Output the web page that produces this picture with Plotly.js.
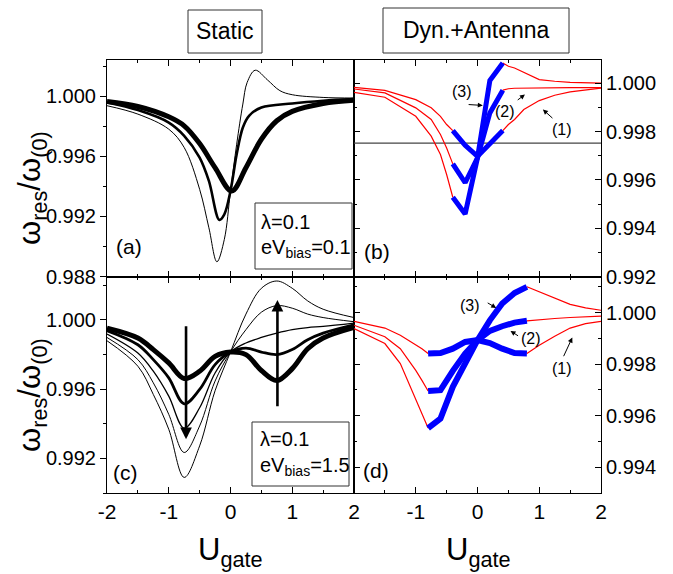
<!DOCTYPE html>
<html>
<head>
<meta charset="utf-8">
<script src="https://cdn.plot.ly/plotly-3.0.1.min.js"></script>
<style>html,body{margin:0;padding:0;background:#fff}#chart{width:673px;height:574px}</style>
</head>
<body>
<div id="chart"></div>
<script>
// ---------- DATA ----------
// Panel (a): static, eV_bias = 0.1
const aThinU = [-2,-1.5,-1,-0.75,-0.5,-0.35,-0.22,-0.1,0,0.1,0.2,0.27,0.4,0.6,0.8,1,1.5,2];
const aThinV = [0.99936,0.9988,0.9978,0.99658,0.9938,0.99124,0.98898,0.99047,0.99369,0.9968,0.99947,1.00091,1.00172,1.00107,1.00036,1.00009,0.99991,0.99987];
const aMedU = [-2,-1.5,-1,-0.75,-0.5,-0.35,-0.18,-0.1,0,0.1,0.2,0.3,0.5,1,1.5,2];
const aMedV = [0.99958,0.99907,0.99824,0.99736,0.99591,0.99436,0.99176,0.99213,0.99369,0.99613,0.99791,0.99869,0.99924,0.99951,0.99969,0.9998];
const aThickU = [-2,-1.5,-1,-0.75,-0.5,-0.25,0.02,0.25,0.5,0.75,1,1.5,2];
const aThickV = [0.99964,0.99931,0.99862,0.99802,0.99684,0.99524,0.99369,0.99524,0.99713,0.99836,0.99898,0.99951,0.99973];

// Panel (b): dynamic + antenna, eV_bias = 0.1
const bLeftU  = [-2,-1.5,-1,-0.75,-0.6,-0.5,-0.4];
const bBlueU  = [-0.4,-0.2,0,0.2,0.41];
const bRightU = [0.41,0.5,0.6,0.75,1,1.25,1.5,2];
const b1Left  = [0.99983,0.9997,0.99932,0.99898,0.99863,0.99829,0.99804];
const b2Left  = [0.99976,0.9996,0.99898,0.9985,0.99788,0.99732,0.99666];
const b3Left  = [0.99962,0.99942,0.99863,0.99781,0.99705,0.99622,0.99528];
const b1Blue  = [0.99804,0.99743,0.99697,0.99749,0.99804];
const b2Blue  = [0.99666,0.99588,0.99691,0.99877,0.99971];
const b3Blue  = [0.99528,0.99459,0.99691,1.00011,1.00084];
const b1Right = [0.99804,0.99829,0.9985,0.99891,0.99928,0.9995,0.99964,0.9998];
const b2Right = [0.99971,0.99977,0.99979,0.9998,0.99981,0.99982,0.99982,0.99982];
const b3Right = [1.00084,1.0007,1.00063,1.00044,1.00015,1.00008,1.00003,1.0];
const bRefLineU = [-2, 2];
const bRefLineV = [0.99752, 0.99752];

// Panel (c): static, eV_bias = 1.5
const cU  = [-2,-1.5,-1.25,-1,-0.75,-0.5,-0.25,0,0.25,0.5,0.75,1,1.25,1.5,2];
const c1V = [0.99952,0.99895,0.99828,0.99751,0.99661,0.99703,0.99789,0.99814,0.99799,0.99707,0.99649,0.99718,0.99833,0.99895,0.99956];
const c2V = [0.99937,0.99856,0.9977,0.99665,0.99515,0.99598,0.99741,0.99814,0.99837,0.99814,0.99799,0.99828,0.99885,0.99923,0.99971];
const c3V = [0.99918,0.99808,0.99703,0.99559,0.99374,0.99492,0.99693,0.99814,0.99866,0.99898,0.99923,0.99943,0.99955,0.99962,0.99981];
const c4V = [0.99898,0.9977,0.99636,0.99454,0.99234,0.99387,0.99646,0.99814,0.99943,1.00044,1.00082,1.00067,1.00033,1.00013,0.99989];
const c5V = [0.99879,0.99732,0.99569,0.99368,0.9909,0.99272,0.9959,0.99814,1.00033,1.00182,1.00224,1.00182,1.00109,1.00061,1.00013];

// Panel (d): dynamic + antenna, eV_bias = 1.5
const dLeftU  = [-2,-1.5,-1.25,-1,-0.9,-0.8];
const dBlueU  = [-0.8,-0.6,-0.4,-0.2,0,0.2,0.4,0.6,0.8];
const dRightU = [0.8,1,1.25,1.5,1.75,2];
const d1Left  = [0.99966,0.9994,0.99912,0.99877,0.9986,0.99841];
const d2Left  = [0.99951,0.99906,0.9986,0.99776,0.99737,0.99696];
const d3Left  = [0.99938,0.9988,0.99802,0.9966,0.99608,0.99552];
const d1Blue  = [0.99841,0.99843,0.9986,0.99886,0.99893,0.99882,0.9986,0.99843,0.99841];
const d2Blue  = [0.99696,0.99699,0.99774,0.99841,0.99893,0.99929,0.99947,0.99961,0.99968];
const d3Blue  = [0.99552,0.99589,0.99712,0.99809,0.99893,0.9997,1.00035,1.00076,1.001];
const d1Right = [0.99841,0.99873,0.99908,0.9994,0.99957,0.99966];
const d2Right = [0.99968,0.99973,0.99977,0.99981,0.99983,0.99986];
const d3Right = [1.001,1.0008,1.00054,1.00032,1.00018,1.00009];

// Tick labels
const xTickVals = [-2,-1,0,1,2];
const xTickTextC = ['-2','-1','0','1','2'];
const xTickTextD = ['','-1','0','1','2'];

// Texts
const colTitles = ['Static','Dyn.+Antenna'];
const yTitle = 'ω<sub>res</sub>/ω<sub>(0)</sub>';
const xTitle = 'U<sub>gate</sub>';
const infoA = ['λ=0.1','eV<sub>bias</sub>=0.1'];
const infoC = ['λ=0.1','eV<sub>bias</sub>=1.5'];
const panelLabels = ['(a)','(b)','(c)','(d)'];
const curveLabels = ['(1)','(2)','(3)'];

// ---------- STYLE / LAYOUT ----------
const FONT = '"Liberation Sans", Arial, sans-serif';
const L=107, R=601, T=60, B=493;
const px = x => (x-L)/(R-L);
const py = y => (B-y)/(B-T);
const RED='#ff0000', BLUE='#0000ff';

const traces = [];
function line(x,y,xa,ya,color,width,shape){
  traces.push({x:x,y:y,xaxis:xa,yaxis:ya,mode:'lines',hoverinfo:'skip',showlegend:false,
    line:{color:color,width:width,shape:shape||'linear',smoothing:1}});
}
// (a)
line(aThinU,aThinV,'x','y','#000',1,'spline');
line(aMedU,aMedV,'x','y','#000',2.6,'spline');
line(aThickU,aThickV,'x','y','#000',5,'spline');
// (b)
line(bRefLineU,bRefLineV,'x2','y2','#444',1.3);
[[b1Left,b1Blue,b1Right],[b2Left,b2Blue,b2Right],[b3Left,b3Blue,b3Right]].forEach(c=>{
  line(bLeftU,c[0],'x2','y2',RED,1.2);
  line(bRightU,c[2],'x2','y2',RED,1.2);
});
[b1Blue,b2Blue,b3Blue].forEach(v=>line(bBlueU,v,'x2','y2',BLUE,5));
// (c)
line(cU,c5V,'x3','y3','#000',1,'spline');
line(cU,c4V,'x3','y3','#000',1,'spline');
line(cU,c3V,'x3','y3','#000',1.3,'spline');
line(cU,c2V,'x3','y3','#000',2.8,'spline');
line(cU,c1V,'x3','y3','#000',5,'spline');
// (d)
[[d1Left,d1Right],[d2Left,d2Right],[d3Left,d3Right]].forEach(c=>{
  line(dLeftU,c[0],'x4','y4',RED,1.2);
  line(dRightU,c[1],'x4','y4',RED,1.2);
});
[d1Blue,d2Blue,d3Blue].forEach(v=>line(dBlueU,v,'x4','y4',BLUE,6));

const xTickFont = {family:FONT,size:21,color:'#000'};
const yTickFont = {family:FONT,size:20,color:'#000'};
function xax(domain,anchor,showLabels,ticktext){
  return {domain:domain,anchor:anchor,range:[-2,2],showline:true,linecolor:'#000',linewidth:1,
    mirror:'ticks',ticks:'inside',ticklen:6,tickwidth:1,tickcolor:'#000',
    tickmode:'array',tickvals:xTickVals,ticktext:ticktext||xTickTextC,showticklabels:showLabels,
    tickfont:xTickFont,showgrid:false,zeroline:false,
    minor:{dtick:0.5,ticks:'inside',ticklen:3,tickcolor:'#000',showgrid:false}};
}
function yax(domain,anchor,range,dtick,tick0,minor,side){
  const right = side==='right';
  return {domain:domain,anchor:anchor,range:range,side:side,showline:true,linecolor:'#000',linewidth:1,
    mirror:right?'ticks':true,ticks:right?'inside':'outside',ticklen:6,tickwidth:1,tickcolor:'#000',
    dtick:dtick,tick0:tick0,tickformat:'.3f',tickfont:yTickFont,showgrid:false,zeroline:false,
    minor:{dtick:minor,ticks:right?'inside':'outside',ticklen:3,tickcolor:'#000',showgrid:false}};
}

const ann = [];
function txt(text,x,y,size,opts){
  ann.push(Object.assign({text:text,x:x,y:y,xref:'paper',yref:'paper',showarrow:false,
    font:{family:FONT,size:size,color:'#000'},xanchor:'center',yanchor:'middle'},opts||{}));
}
// column titles
txt(colTitles[0],px(225),py(31),23);
txt(colTitles[1],px(476),py(30),23);
// axis titles
txt(yTitle,px(32),py(188),31,{textangle:-90});
txt(yTitle,px(32),py(395),31,{textangle:-90});
txt(xTitle,px(230),py(552),31);
txt(xTitle,px(478),py(552),31);
// panel labels
txt(panelLabels[0],px(129),py(246),21);
txt(panelLabels[1],px(377),py(252),21);
txt(panelLabels[2],px(125),py(472),21);
txt(panelLabels[3],px(376),py(470),21);
// info boxes text
txt(infoA[0],px(259),py(222),20,{xanchor:'left'});
txt(infoA[1],px(259),py(248),20,{xanchor:'left'});
txt(infoC[0],px(258),py(439),20,{xanchor:'left'});
txt(infoC[1],px(258),py(466),20,{xanchor:'left'});

// data-anchored arrows / labels
function arrow(xa,ya,x0,y0,x1,y1,w,size){
  ann.push({xref:xa,yref:ya,axref:xa,ayref:ya,x:x1,y:y1,ax:x0,ay:y0,text:'',showarrow:true,
    arrowhead:2,arrowsize:size,arrowwidth:w,arrowcolor:'#000',standoff:0,startstandoff:0});
}
function dlabel(xa,ya,text,x,y){
  ann.push({xref:xa,yref:ya,x:x,y:y,text:text,showarrow:false,font:{family:FONT,size:16,color:'#000'},
    xanchor:'center',yanchor:'middle'});
}
// (c) thick arrows
arrow('x3','y3',-0.72,0.99971,-0.72,0.9931,2.6,0.9);
arrow('x3','y3',0.76,0.99492,0.76,1.00115,2.6,0.9);
// (b) labels
dlabel('x2','y2',curveLabels[2],-0.249,0.99967);
arrow('x2','y2',-0.168,0.99912,0.086,0.99908,1,1);
dlabel('x2','y2',curveLabels[1],0.443,0.99884);
arrow('x2','y2',0.627,0.99926,0.768,0.99953,1,1);
dlabel('x2','y2',curveLabels[0],1.362,0.99808);
arrow('x2','y2',1.238,0.9985,1.059,0.99891,1,1);
// (d) labels
dlabel('x4','y4',curveLabels[2],-0.114,1.00028);
arrow('x4','y4',0.141,1.00041,0.303,1.00018,1,1);
dlabel('x4','y4',curveLabels[1],0.859,0.99899);
arrow('x4','y4',0.681,0.99906,0.535,0.99929,1,1);
dlabel('x4','y4',curveLabels[0],1.362,0.99785);
arrow('x4','y4',1.384,0.99825,1.535,0.99903,1,1);

function box(x0,y0,x1,y1){
  return {type:'rect',xref:'paper',yref:'paper',x0:px(x0),x1:px(x1),y0:py(y0),y1:py(y1),
    line:{color:'#333',width:1},fillcolor:'rgba(0,0,0,0)'};
}

const layout = {
  width:673,height:574,margin:{l:L,r:673-R,t:T,b:574-B,pad:0},
  paper_bgcolor:'#fff',plot_bgcolor:'#fff',showlegend:false,
  font:{family:FONT,color:'#000'},
  xaxis: xax([0,0.5],'y',false),
  xaxis2:xax([0.5,1],'y2',false),
  xaxis3:xax([0,0.5],'y3',true,xTickTextC),
  xaxis4:xax([0.5,1],'y4',true,xTickTextD),
  yaxis: yax([0.5,1],'x',[0.988,1.0024],0.004,0.988,0.002,'left'),
  yaxis2:yax([0.5,1],'x2',[0.992,1.00096],0.002,0.992,0.001,'right'),
  yaxis3:yax([0,0.5],'x3',[0.990,1.0025],0.004,0.992,0.002,'left'),
  yaxis4:yax([0,0.5],'x4',[0.993,1.0014],0.002,0.994,0.001,'right'),
  annotations:ann,
  shapes:[box(188,10,262,53),box(383,8,569,53),box(255,203,352,269),box(252,422,349,486)]
};
Plotly.newPlot('chart',traces,layout,{displayModeBar:false,staticPlot:true});
</script>
</body>
</html>
